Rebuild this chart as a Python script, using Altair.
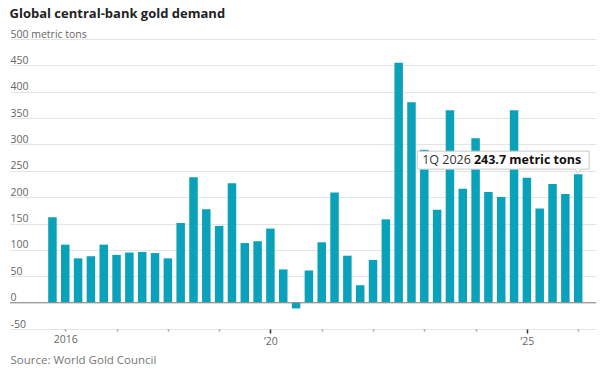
import altair as alt
import pandas as pd

quarters = [
    "4Q 2015",
    "1Q 2016", "2Q 2016", "3Q 2016", "4Q 2016",
    "1Q 2017", "2Q 2017", "3Q 2017", "4Q 2017",
    "1Q 2018", "2Q 2018", "3Q 2018", "4Q 2018",
    "1Q 2019", "2Q 2019", "3Q 2019", "4Q 2019",
    "1Q 2020", "2Q 2020", "3Q 2020", "4Q 2020",
    "1Q 2021", "2Q 2021", "3Q 2021", "4Q 2021",
    "1Q 2022", "2Q 2022", "3Q 2022", "4Q 2022",
    "1Q 2023", "2Q 2023", "3Q 2023", "4Q 2023",
    "1Q 2024", "2Q 2024", "3Q 2024", "4Q 2024",
    "1Q 2025", "2Q 2025", "3Q 2025", "4Q 2025",
    "1Q 2026",
]
demand = [
    162,
    110, 84, 88, 110,
    90.5, 95, 96, 94,
    84, 151, 238, 177,
    145.5, 226.5, 113, 116.5,
    140.5, 63, -11, 61,
    114.5, 209, 89, 33,
    81, 158, 455, 380,
    290, 176, 365, 216,
    312, 210, 200.5, 365,
    237, 178.5, 225, 206,
    243.7,
]
tick_years = list(range(2016, 2027))
y_ticks = [-50, 0, 50, 100, 150, 200, 250, 300, 350, 400, 450, 500]

df = pd.DataFrame({"quarter": quarters, "tons": demand})
df["t"] = [int(q.split()[1]) + (int(q[0]) - 1) / 4 for q in quarters]
last = df.iloc[[-1]].copy()
last["lab1"] = last["quarter"]
last["lab2"] = [f"{v} metric tons" for v in last["tons"]]

FONT = "Open Sans"
BAR = "#0aa2bb"

xscale = alt.Scale(domain=[2015.02, 2026.25], nice=False, zero=False)
yscale = alt.Scale(domain=[-50, 500], nice=False)

x_axis = alt.Axis(
    values=tick_years,
    labelExpr="datum.value == 2016 ? '2016' : (datum.value == 2020 ? '\u201920' : (datum.value == 2025 ? '\u201925' : ''))",
    grid=False,
    domain=False,
    tickSize={"condition": {"test": "datum.value == 2020 || datum.value == 2025", "value": 4}, "value": 2},
    tickColor={"condition": {"test": "datum.value == 2020 || datum.value == 2025", "value": "#333333"}, "value": "#999999"},
    tickWidth=1.5,
    labelFont=FONT,
    labelFontSize=10.5,
    labelColor="#666666",
    labelPadding=3,
    labelOverlap=False,
    title="Source: World Gold Council",
    titleAnchor="start",
    titleAlign="left",
    titleFont=FONT,
    titleFontSize=11.5,
    titleFontWeight="normal",
    titleColor="#777777",
    titlePadding=8,
)

y_axis = alt.Axis(
    values=y_ticks,
    labelExpr="datum.value == 500 ? '500 metric tons' : '' + datum.value",
    orient="left",
    domain=False,
    ticks=False,
    tickSize=0,
    grid=True,
    gridColor="#e4e4e4",
    gridWidth=1,
    labelAlign="left",
    labelBaseline="alphabetic",
    labelPadding=0,
    labelOffset=-2,
    labelFont=FONT,
    labelFontSize=10.5,
    labelColor="#666666",
    labelOverlap=False,
    labelBound=False,
    labelFlush=False,
    title=None,
)


def X(field):
    return alt.X(field, scale=xscale, axis=x_axis)


def Y(field):
    return alt.Y(field, scale=yscale, axis=y_axis)


bars = alt.Chart(df).mark_bar(width=8.5, color=BAR).encode(
    x=X("t:Q"),
    y=Y("tons:Q"),
)

zero = alt.Chart(pd.DataFrame({"y": [0]})).mark_rule(color="#8c8c8c", strokeWidth=1).encode(
    y=Y("y:Q")
)

box = alt.Chart(last).mark_rect(
    fill="white", stroke="#c8c8c8", strokeWidth=1,
    xOffset=-161, x2Offset=11, yOffset=-23, y2Offset=-5,
).encode(
    x=X("t:Q"), x2="t:Q",
    y=Y("tons:Q"), y2="tons:Q",
)

pointer = alt.Chart(last).mark_point(
    shape="M -1 -0.6 L 0 0.6 L 1 -0.6", filled=True, fill="white",
    stroke="#c8c8c8", strokeWidth=1, size=40, opacity=1, yOffset=-3,
).encode(
    x=X("t:Q"),
    y=Y("tons:Q"),
)

txt1 = alt.Chart(last).mark_text(
    align="left", baseline="alphabetic", dx=-156, dy=-10,
    font=FONT, fontSize=12.5, color="#333333",
).encode(
    x=X("t:Q"),
    y=Y("tons:Q"),
    text="lab1:N",
)

txt2 = alt.Chart(last).mark_text(
    align="right", baseline="alphabetic", dx=3, dy=-10,
    font=FONT, fontSize=12.5, fontWeight="bold", color="#111111",
).encode(
    x=X("t:Q"),
    y=Y("tons:Q"),
    text="lab2:N",
)

chart = alt.layer(bars, zero, box, pointer, txt1, txt2).properties(
    width=586,
    height=290,
    autosize=alt.AutoSizeParams(type="none"),
    padding={"left": 10, "top": 39, "right": 4, "bottom": 41},
    title=alt.TitleParams(
        "Global central-bank gold demand",
        anchor="start", font=FONT, fontSize=13, fontWeight="bold",
        color="#222222", offset=8,
    ),
).configure(background="white").configure_view(strokeWidth=0)

chart.save("out.html", embed_options={"renderer": "svg", "actions": False})
